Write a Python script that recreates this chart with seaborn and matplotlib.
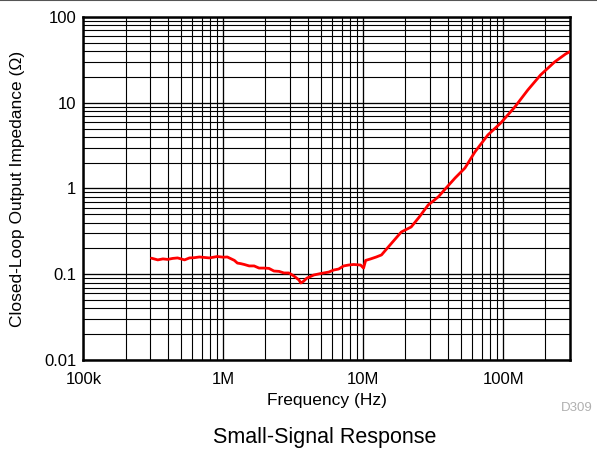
import numpy as np
import pandas as pd
import seaborn as sns
import matplotlib
matplotlib.use("Agg")
import matplotlib.pyplot as plt
from matplotlib.ticker import FixedLocator, LogLocator, NullFormatter
from matplotlib.lines import Line2D

# Closed-loop output impedance vs. frequency
freq_hz = [
    3.06e5, 3.40e5, 3.70e5, 4.00e5, 4.35e5, 4.71e5, 5.28e5, 5.73e5, 6.20e5,
    6.75e5, 7.30e5, 7.95e5, 8.50e5, 9.06e5, 1.00e6, 1.067e6, 1.14e6, 1.20e6,
    1.26e6, 1.33e6, 1.41e6, 1.53e6, 1.66e6, 1.80e6, 1.96e6, 2.12e6, 2.30e6,
    2.50e6, 2.71e6, 2.94e6, 3.19e6, 3.47e6, 3.58e6, 3.75e6, 3.95e6, 4.43e6,
    4.97e6, 5.67e6, 6.15e6, 6.67e6, 7.24e6, 7.85e6, 8.53e6, 9.57e6, 1.005e7,
    1.04e7, 1.13e7, 1.24e7, 1.35e7, 1.51e7, 1.70e7, 1.87e7, 2.20e7, 2.50e7,
    2.91e7, 3.43e7, 3.91e7, 4.53e7, 5.33e7, 6.28e7, 7.77e7, 9.61e7, 1.21e8,
    1.50e8, 1.85e8, 2.33e8, 2.79e8, 3.00e8,
]
impedance_ohm = [
    0.154, 0.147, 0.151, 0.149, 0.153, 0.155, 0.147, 0.155, 0.156,
    0.159, 0.157, 0.155, 0.158, 0.161, 0.158, 0.159, 0.151, 0.145,
    0.135, 0.133, 0.130, 0.125, 0.125, 0.118, 0.118, 0.117, 0.109,
    0.108, 0.1035, 0.1035, 0.0955, 0.0858, 0.079, 0.083, 0.090, 0.098,
    0.102, 0.106, 0.112, 0.115, 0.125, 0.128, 0.130, 0.128, 0.118,
    0.145, 0.151, 0.159, 0.168, 0.208, 0.26, 0.311, 0.356, 0.46,
    0.642, 0.796, 1.014, 1.325, 1.733, 2.67, 4.21, 5.81, 8.91,
    14.1, 21.1, 29.9, 37.0, 39.5,
]

x_ticks = [1e5, 1e6, 1e7, 1e8]
x_tick_labels = ["100k", "1M", "10M", "100M"]
y_ticks = [0.01, 0.1, 1, 10, 100]
y_tick_labels = ["0.01", "0.1", "1", "10", "100"]

df = pd.DataFrame({"Frequency (Hz)": freq_hz, "Impedance": impedance_ohm})

sns.set_theme(style="white")
plt.rcParams["font.family"] = ["Liberation Sans", "DejaVu Sans"]

fig = plt.figure(figsize=(5.97, 4.51), dpi=100)
ax = fig.add_axes([0.1397, 0.2018, 0.8150, 0.7605])

sns.lineplot(data=df, x="Frequency (Hz)", y="Impedance", ax=ax,
             color="#ff0000", linewidth=2.0, zorder=3)

ax.set_xscale("log")
ax.set_yscale("log")
ax.set_xlim(1e5, 3e8)
ax.set_ylim(0.01, 100)

ax.xaxis.set_major_locator(FixedLocator(x_ticks))
ax.set_xticklabels(x_tick_labels)
ax.xaxis.set_minor_locator(LogLocator(base=10, subs=np.arange(2, 10)))
ax.xaxis.set_minor_formatter(NullFormatter())
ax.yaxis.set_major_locator(FixedLocator(y_ticks))
ax.set_yticklabels(y_tick_labels)
ax.yaxis.set_minor_locator(LogLocator(base=10, subs=np.arange(2, 10)))
ax.yaxis.set_minor_formatter(NullFormatter())

ax.grid(True, which="major", color="black", linewidth=0.95)
ax.grid(True, which="minor", color="black", linewidth=0.8)
ax.tick_params(which="both", length=0, labelsize=12, colors="black")
ax.tick_params(axis="x", pad=9)
ax.tick_params(axis="y", pad=5)

for sp in ax.spines.values():
    sp.set_visible(True)
    sp.set_color("black")
    sp.set_linewidth(1.8)

ax.set_xlabel("Frequency (Hz)", fontsize=12.5, color="black")
ax.xaxis.label.set_va("center")
ax.xaxis.set_label_coords(0.5, -0.1195)
ax.set_ylabel("Closed-Loop Output Impedance (\u03a9)", fontsize=12.5, color="black")
ax.yaxis.label.set_va("center")
ax.yaxis.set_label_coords(-0.1346, 0.5)

fig.text(325 / 597, 1 - 437 / 451, "Small-Signal Response", ha="center", va="center",
         fontsize=15.5, color="black")
fig.text(0.993, 1 - 408 / 451, "D309", ha="right", va="center",
         fontsize=9.5, color="#b0b0b0")

fig.add_artist(Line2D([0, 1], [0.999, 0.999], transform=fig.transFigure,
                      color="#555555", linewidth=1.5))

fig.savefig("out.png", dpi=100)
